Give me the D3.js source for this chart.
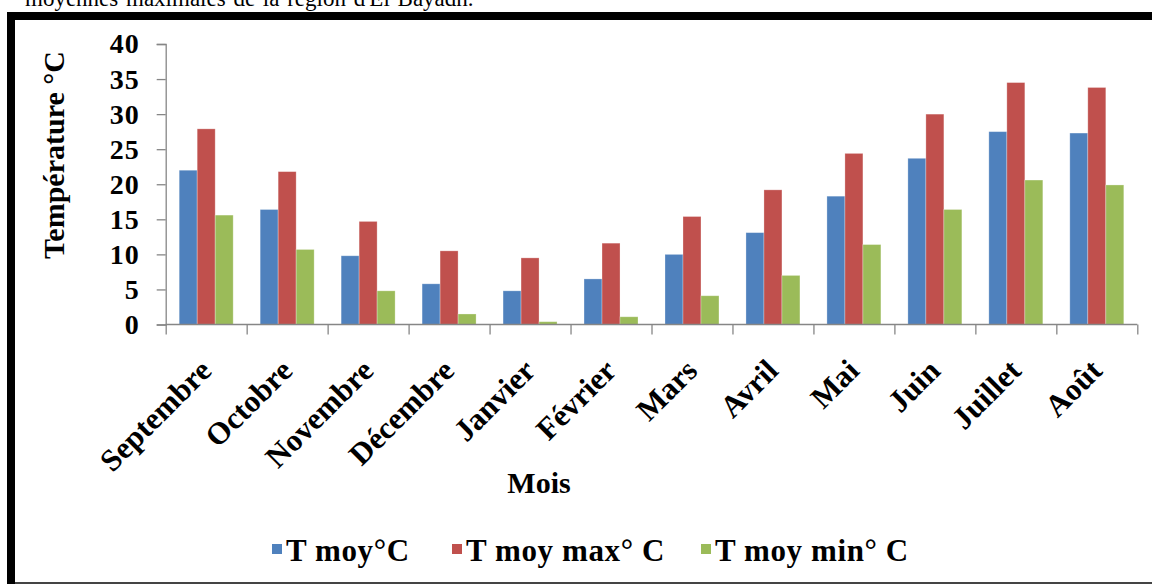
<!DOCTYPE html>
<html>
<head>
<meta charset="utf-8">
<script src="https://cdn.jsdelivr.net/npm/d3@7"></script>
<style>
  body { margin: 0; background: #fff; }
  svg { display: block; }
  text { font-family: "Liberation Serif", "Times New Roman", serif; }
</style>
</head>
<body>
<svg width="1152" height="584"></svg>
<script>
// monthly temperatures, El Bayadh
const months = ["Septembre", "Octobre", "Novembre", "Décembre", "Janvier", "Février",
                "Mars", "Avril", "Mai", "Juin", "Juillet", "Août"]
const tMoy = [22.0, 16.4, 9.8, 5.8, 4.8, 6.5, 10.0, 13.1, 18.3, 23.7, 27.5, 27.3]
const tMax = [27.9, 21.8, 14.7, 10.5, 9.5, 11.6, 15.4, 19.2, 24.4, 30.0, 34.5, 33.8]
const tMin = [15.6, 10.7, 4.8, 1.5, 0.4, 1.1, 4.1, 7.0, 11.4, 16.4, 20.6, 19.9]
const seriesNames = ["T moy\u00b0C", "T moy max\u00b0 C", "T moy min\u00b0 C"]
const colors = ["#4f81bd", "#c0504d", "#9bbb59"]
const yTicks = [0, 5, 10, 15, 20, 25, 30, 35, 40]

const svg = d3.select("svg")

// caption, cut off at the top of the page like in the scan
svg.append("text")
  .attr("x", 25).attr("y", 6)
  .attr("font-size", 23)
  .attr("word-spacing", 2)
  .text("moyennes maximales de la région d'El Bayadh.")

// frame
svg.append("rect").attr("x", 7).attr("y", 12).attr("width", 1145).attr("height", 8).attr("fill", "#000")
svg.append("rect").attr("x", 7).attr("y", 12).attr("width", 8).attr("height", 572).attr("fill", "#000")
svg.append("rect").attr("x", 15).attr("y", 582).attr("width", 1137).attr("height", 2).attr("fill", "#444")

const plotLeft = 165.7, plotRight = 1137.3, plotTop = 44, plotBottom = 324.5

const x = d3.scaleBand()
  .domain(months)
  .range([plotLeft, plotRight])
  .paddingInner(1 / 3)
  .paddingOuter(1 / 6)

const xs = d3.scaleBand()
  .domain(d3.range(3))
  .range([0, x.bandwidth()])

const y = d3.scaleLinear()
  .domain([0, 40])
  .range([plotBottom, plotTop])

const data = months.map((m, i) => ({month: m, values: [tMoy[i], tMax[i], tMin[i]]}))

// bars
const groups = svg.append("g").selectAll("g")
  .data(data)
  .enter().append("g")
  .attr("transform", d => `translate(${x(d.month)},0)`)

groups.selectAll("rect")
  .data(d => d.values.map((v, k) => ({v, k})))
  .enter().append("rect")
  .attr("x", d => xs(d.k))
  .attr("y", d => y(d.v))
  .attr("width", xs.bandwidth())
  .attr("height", d => y(0) - y(d.v))
  .attr("fill", d => colors[d.k])
  .attr("stroke", "#ffffff")
  .attr("stroke-opacity", 0.35)
  .attr("stroke-width", 0.8)

// y axis
const yAxis = svg.append("g")
  .attr("transform", `translate(${plotLeft},0)`)
  .call(d3.axisLeft(y).tickValues(yTicks).tickSize(9).tickPadding(17))
yAxis.selectAll("line, path").attr("stroke", "#868686").attr("stroke-width", 1.3)
yAxis.selectAll("text")
  .attr("font-family", "Liberation Serif, serif")
  .attr("font-size", 28).attr("font-weight", "bold").attr("fill", "#000")
  .attr("letter-spacing", 1)

// x axis: boundary ticks
const xb = d3.scaleLinear().domain([0, 12]).range([plotLeft, plotRight])
const xAxis = svg.append("g")
  .attr("transform", `translate(0,${plotBottom})`)
  .call(d3.axisBottom(xb).ticks(12).tickSize(10).tickFormat(""))
xAxis.select(".domain").attr("d", `M${plotLeft},0H${plotRight}`)
xAxis.selectAll("line, path").attr("stroke", "#868686").attr("stroke-width", 1.3)

// x labels, rotated
const xLab = svg.append("g")
  .attr("transform", `translate(0,${plotBottom})`)
  .call(d3.axisBottom(x).tickSize(0).tickPadding(0))
xLab.select(".domain").remove()
xLab.selectAll("text")
  .attr("font-family", "Liberation Serif, serif")
  .attr("font-size", 31).attr("font-weight", "bold").attr("fill", "#000")
  .attr("text-anchor", "end")
  .attr("dy", 0).attr("y", 0)
  .attr("transform", "translate(7,48) rotate(-45)")

// axis titles
svg.append("text")
  .attr("transform", "translate(64,155) rotate(-90)")
  .attr("text-anchor", "middle")
  .attr("font-size", 30).attr("font-weight", "bold")
  .text("Température °C")

svg.append("text")
  .attr("x", 539).attr("y", 493)
  .attr("text-anchor", "middle")
  .attr("font-size", 30).attr("font-weight", "bold")
  .text("Mois")

// legend
const legendX = [272, 452, 701]
const legend = svg.append("g").selectAll("g")
  .data(seriesNames)
  .enter().append("g")
  .attr("transform", (d, i) => `translate(${legendX[i]},544)`)
legend.append("rect")
  .attr("width", 10).attr("height", 10)
  .attr("fill", (d, i) => colors[i])
legend.append("text")
  .attr("x", 14).attr("y", 17)
  .attr("font-size", 31).attr("font-weight", "bold")
  .attr("letter-spacing", 0.6)
  .text(d => d)
</script>
</body>
</html>
